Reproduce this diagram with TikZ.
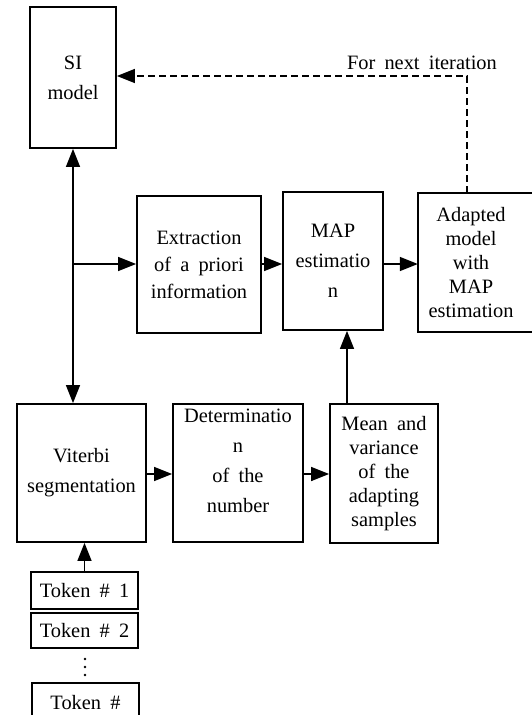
\documentclass[tikz,border=0pt]{standalone}
\usepackage{fontspec}
\setmainfont[WordSpace=1.8]{Liberation Serif}
\usetikzlibrary{arrows.meta}
\tikzset{
  box/.style={draw, line width=1.8pt, align=center, inner sep=0pt},
  txt/.style={align=center, inner sep=0pt},
  ls24/.style={font=\fontsize{20.4}{24}\selectfont},
  ls27/.style={font=\fontsize{20.4}{27}\selectfont},
  ls30/.style={font=\fontsize{20.4}{30}\selectfont},
  arr/.style={line width=1.5pt, -{Triangle[length=18pt,width=14pt]}},
  darr/.style={line width=1.5pt, <->, >={Triangle[length=18pt,width=14pt]}},
  dash line/.style={line width=1.5pt, dash pattern=on 7pt off 4pt, -{Triangle[length=18pt,width=14pt]}}
}
\begin{document}
\begin{tikzpicture}[x=1pt,y=-1pt]
\useasboundingbox (0,0) rectangle (531,715);
% boxes
\node[box, ls30, minimum width=86pt, minimum height=141pt] (si) at (73,77.5) {SI\\model};
\node[box, ls27, minimum width=124pt, minimum height=137pt] (ext) at (199,264.5) {Extraction\\of a priori\\information};
\node[box, ls30, minimum width=100pt, minimum height=138pt] (map) at (333,261) {MAP\\estimatio\\n};
\node[txt, ls24, minimum width=106pt, minimum height=139pt] (adapt) at (471,262.5) {Adapted\\model\\with\\MAP\\estimation};
\draw[line width=1.8pt] (adapt.north west) rectangle ([xshift=25pt]adapt.south east);
\node[box, ls30, minimum width=129pt, minimum height=138pt] (vit) at (81.5,473) {Viterbi\\segmentation};
\node[box, ls30, minimum width=130pt, minimum height=138pt] (det) at (238,473) {Determinatio\\n\\of the\\number\\[-6pt]};
\node[box, ls24, minimum width=108pt, minimum height=139pt] (mean) at (384,473.5) {Mean and\\variance\\of the\\adapting\\samples};
\node[box, font=\fontsize{20.4}{24}\selectfont, minimum width=107pt, minimum height=37pt] (tok1) at (84.5,590.5) {Token \# 1};
\node[box, font=\fontsize{20.4}{24}\selectfont, minimum width=107pt, minimum height=35pt] (tok2) at (84.5,630.5) {Token \# 2};
\node[box, font=\fontsize{20.4}{24}\selectfont, minimum width=107pt, minimum height=40pt] (tokn) at (85.5,703) {Token \#};
% dots
\fill (85,659) circle (1.4pt) (85,667) circle (1.4pt) (85,675) circle (1.4pt);
% connectors
\draw[darr] (si.south) -- (si.south |- vit.north);
\coordinate (br) at (si.south |- 0,264);
\draw[arr] (br) -- (br -| ext.west);
\draw[arr] (ext.east |- br) -- (map.west |- br);
\draw[arr] (map.east |- br) -- (adapt.west |- br);
\draw[dash line] ([xshift=-4pt]adapt.north) |- (si.east |- 0,76);
\node[font=\fontsize{20.4}{24}\selectfont, anchor=east, inner sep=0pt] (lbl) at (497,63) {For next iteration};
\coordinate (mt) at ([xshift=-37pt]mean.north);
\draw[arr] (mt) -- (mt |- map.south);
\draw[arr] (vit.east |- 0,474) -- (det.west |- 0,474);
\draw[arr] (det.east |- 0,474) -- (mean.west |- 0,474);
\draw[arr] (tok1.north) -- (tok1.north |- vit.south);
\end{tikzpicture}
\end{document}
